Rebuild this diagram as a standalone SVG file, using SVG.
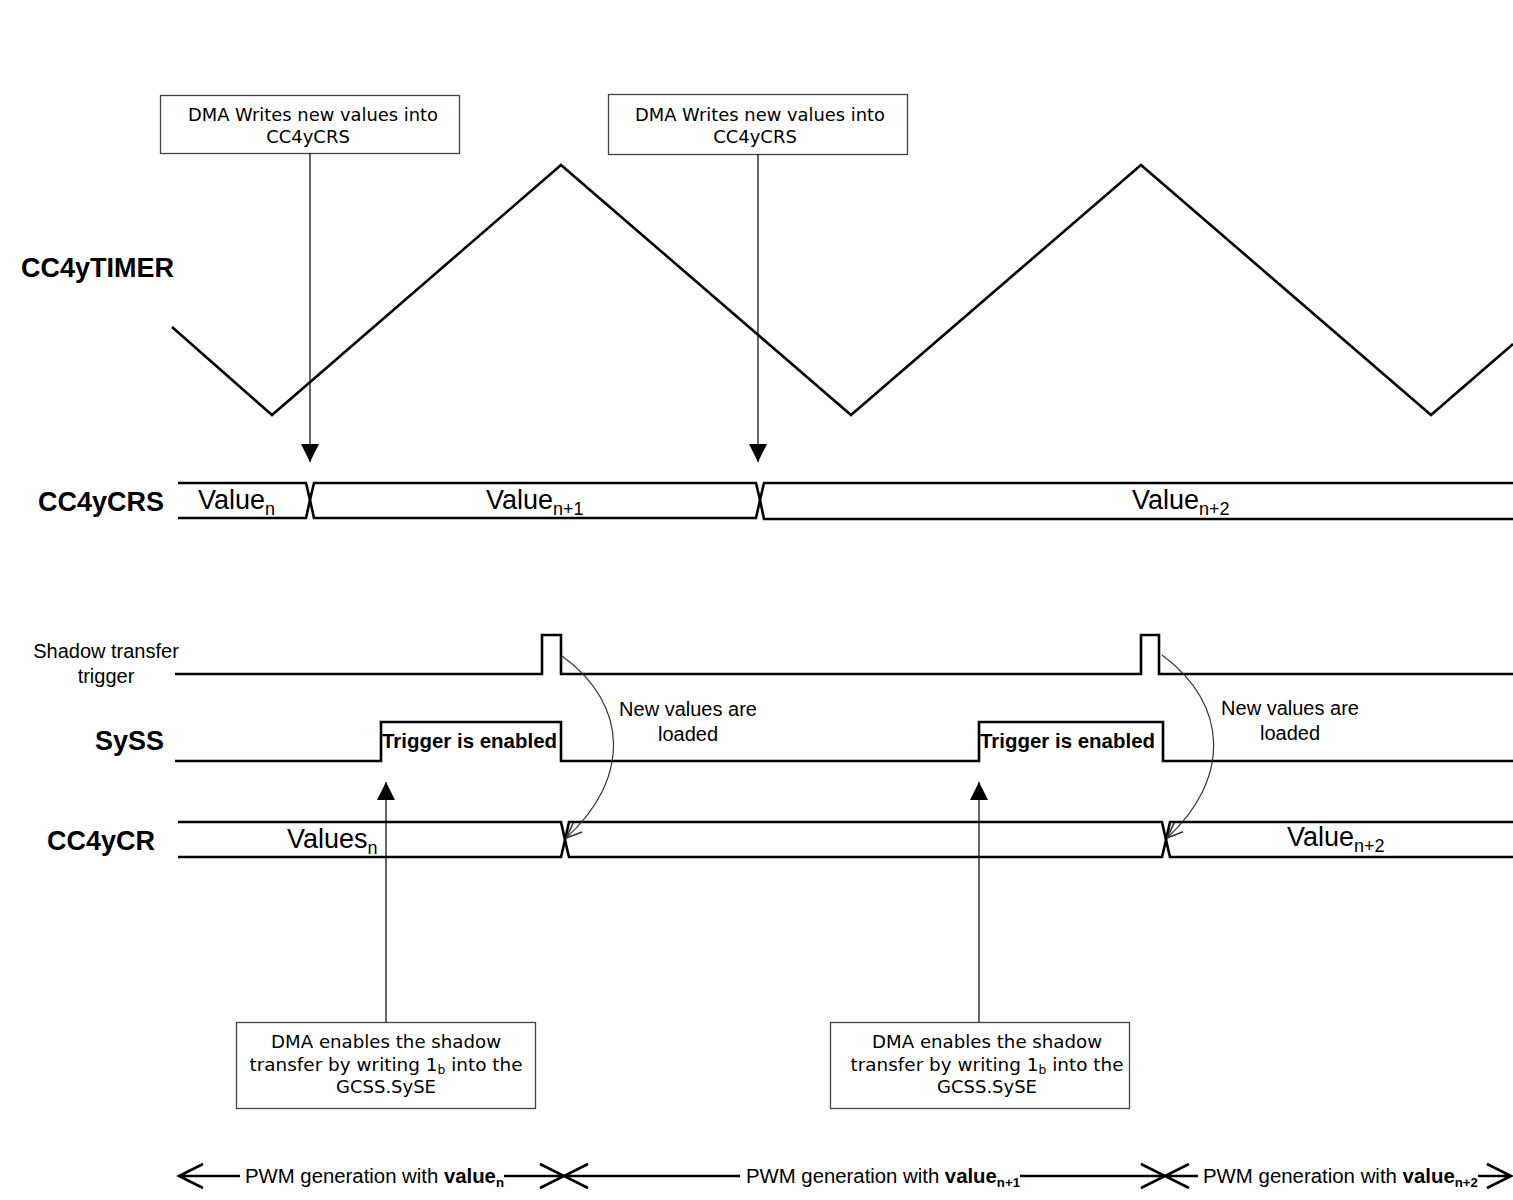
<svg xmlns="http://www.w3.org/2000/svg" width="1513" height="1200" viewBox="0 0 1513 1200">
<style>
.box{fill:#fff;stroke:#444;stroke-width:1.3}
.bt{font-family:"DejaVu Sans",Verdana,sans-serif;font-size:18px;fill:#000;text-anchor:middle}
.sig{fill:none;stroke:#000;stroke-width:2.6}
.thin{fill:none;stroke:#000;stroke-width:1.2}
.curve{fill:none;stroke:#333;stroke-width:1.2}
.lbl{font-family:"Liberation Sans",Arial,sans-serif;font-weight:bold;font-size:27px;fill:#000}
.t{font-family:"Liberation Sans",Arial,sans-serif;fill:#000}
.val{font-family:"Liberation Sans",Arial,sans-serif;font-size:27px;fill:#000}
.sub{font-size:18px}
</style>
<defs>
<marker id="tri" viewBox="0 0 10 10" refX="10" refY="5" markerWidth="18" markerHeight="18" markerUnits="userSpaceOnUse" orient="auto">
<path d="M0,0 L10,5 L0,10 Z" fill="#000"/>
</marker>
<marker id="open" viewBox="0 0 10 10" refX="10" refY="5" markerWidth="16" markerHeight="16" markerUnits="userSpaceOnUse" orient="auto">
<path d="M0,1 L10,5 L0,9" fill="none" stroke="#333" stroke-width="1"/>
</marker>
</defs>
<rect width="1513" height="1200" fill="#fff"/>

<g id="labels">
<text class="lbl" x="21" y="277">CC4yTIMER</text>
<text class="lbl" x="38" y="511">CC4yCRS</text>
<text class="t" x="106" y="658" font-size="20" text-anchor="middle">Shadow transfer</text>
<text class="t" x="106" y="683" font-size="20" text-anchor="middle">trigger</text>
<text class="lbl" x="95" y="750">SySS</text>
<text class="lbl" x="47" y="850">CC4yCR</text>
</g>

<g id="timer">
<polyline class="sig" points="172,327 272,415 561,165 851,415 1141,165 1431,415 1513,344"/>
</g>

<g id="crs">
<path class="sig" d="M178,483 H306 L310,500 L306,518 H178"/>
<path class="sig" d="M314,483 H756 L760,500 L756,518 H314 L310,500 Z"/>
<path class="sig" d="M1513,483 H764 L760,500 L764,519 H1513"/>
<text class="val" x="198" y="509">Value<tspan class="sub" dy="6">n</tspan></text>
<text class="val" x="486" y="509">Value<tspan class="sub" dy="6">n+1</tspan></text>
<text class="val" x="1132" y="509">Value<tspan class="sub" dy="6">n+2</tspan></text>
</g>

<g id="trigger">
<polyline class="sig" points="175,674 542,674 542,635 561,635 561,674 1141,674 1141,635 1159,635 1159,674 1513,674"/>
</g>

<g id="syss">
<polyline class="sig" points="175,761 381,761 381,722 561,722 561,761 979,761 979,722 1163,722 1163,761 1513,761"/>
<text class="t" x="382" y="748" font-size="20" font-weight="bold" textLength="175" lengthAdjust="spacingAndGlyphs">Trigger is enabled</text>
<text class="t" x="980" y="748" font-size="20" font-weight="bold" textLength="175" lengthAdjust="spacingAndGlyphs">Trigger is enabled</text>
</g>

<g id="cr">
<path class="sig" d="M178,822 H561 L565,840 L561,857 H178"/>
<path class="sig" d="M569,822 H1162 L1166,840 L1162,857 H569 L565,840 Z"/>
<path class="sig" d="M1513,822 H1170 L1166,840 L1170,857 H1513"/>
<text class="val" x="287" y="848">Values<tspan class="sub" dy="6">n</tspan></text>
<text class="val" x="1287" y="846">Value<tspan class="sub" dy="6">n+2</tspan></text>
</g>

<g id="box1">
<rect class="box" x="160.5" y="95.5" width="299" height="58"/>
<text class="bt" x="313" y="121" textLength="250" lengthAdjust="spacingAndGlyphs">DMA Writes new values into</text>
<text class="bt" x="308" y="143">CC4yCRS</text>
</g>
<g id="box2">
<rect class="box" x="608.5" y="94.5" width="299" height="60"/>
<text class="bt" x="760" y="121" textLength="250" lengthAdjust="spacingAndGlyphs">DMA Writes new values into</text>
<text class="bt" x="755" y="143">CC4yCRS</text>
</g>
<g id="box3">
<rect class="box" x="236.5" y="1022.5" width="299" height="86"/>
<text class="bt" x="386" y="1048" textLength="230" lengthAdjust="spacingAndGlyphs">DMA enables the shadow</text>
<text class="bt" x="386" y="1071" textLength="273" lengthAdjust="spacingAndGlyphs">transfer by writing 1<tspan font-size="12" dy="3">b</tspan><tspan dy="-3"> into the</tspan></text>
<text class="bt" x="386" y="1093">GCSS.SySE</text>
</g>
<g id="box4">
<rect class="box" x="830.5" y="1022.5" width="299" height="86"/>
<text class="bt" x="987" y="1048" textLength="230" lengthAdjust="spacingAndGlyphs">DMA enables the shadow</text>
<text class="bt" x="987" y="1071" textLength="273" lengthAdjust="spacingAndGlyphs">transfer by writing 1<tspan font-size="12" dy="3">b</tspan><tspan dy="-3"> into the</tspan></text>
<text class="bt" x="987" y="1093">GCSS.SySE</text>
</g>

<g id="notes">
<text class="t" x="688" y="716" font-size="20" text-anchor="middle">New values are</text>
<text class="t" x="688" y="741" font-size="20" text-anchor="middle">loaded</text>
<text class="t" x="1290" y="715" font-size="20" text-anchor="middle">New values are</text>
<text class="t" x="1290" y="740" font-size="20" text-anchor="middle">loaded</text>
</g>

<g id="connectors">
<line class="thin" x1="310" y1="153" x2="310" y2="462" marker-end="url(#tri)"/>
<line class="thin" x1="758" y1="154" x2="758" y2="462" marker-end="url(#tri)"/>
<line class="thin" x1="386" y1="1022" x2="386" y2="782" marker-end="url(#tri)"/>
<line class="thin" x1="979" y1="1022" x2="979" y2="782" marker-end="url(#tri)"/>
<path class="curve" d="M562,656 C630,705 630,780 566,838" marker-end="url(#open)"/>
<path class="curve" d="M1162,655 C1230,705 1230,780 1167,838" marker-end="url(#open)"/>
</g>

<g id="pwm">
<g class="sig" stroke-width="3">
<path d="M203,1164 L179,1176 L203,1188 M179,1176 H240"/>
<path d="M504,1176 H740"/>
<path d="M540,1164 L564,1176 L540,1188 M588,1164 L564,1176 L588,1188"/>
<path d="M1020,1176 H1165"/>
<path d="M1141,1164 L1165,1176 L1141,1188 M1189,1164 L1165,1176 L1189,1188 M1165,1176 H1198"/>
<path d="M1478,1176 H1511 M1487,1164 L1511,1176 L1487,1188"/>
</g>
<text class="t" x="245" y="1183" font-size="20" textLength="259" lengthAdjust="spacingAndGlyphs">PWM generation with <tspan font-weight="bold">value</tspan><tspan font-weight="bold" font-size="13" dy="4">n</tspan></text>
<text class="t" x="746" y="1183" font-size="20" textLength="274" lengthAdjust="spacingAndGlyphs">PWM generation with <tspan font-weight="bold">value</tspan><tspan font-weight="bold" font-size="13" dy="4">n+1</tspan></text>
<text class="t" x="1203" y="1183" font-size="20" textLength="275" lengthAdjust="spacingAndGlyphs">PWM generation with <tspan font-weight="bold">value</tspan><tspan font-weight="bold" font-size="13" dy="4">n+2</tspan></text>
</g>
</svg>
